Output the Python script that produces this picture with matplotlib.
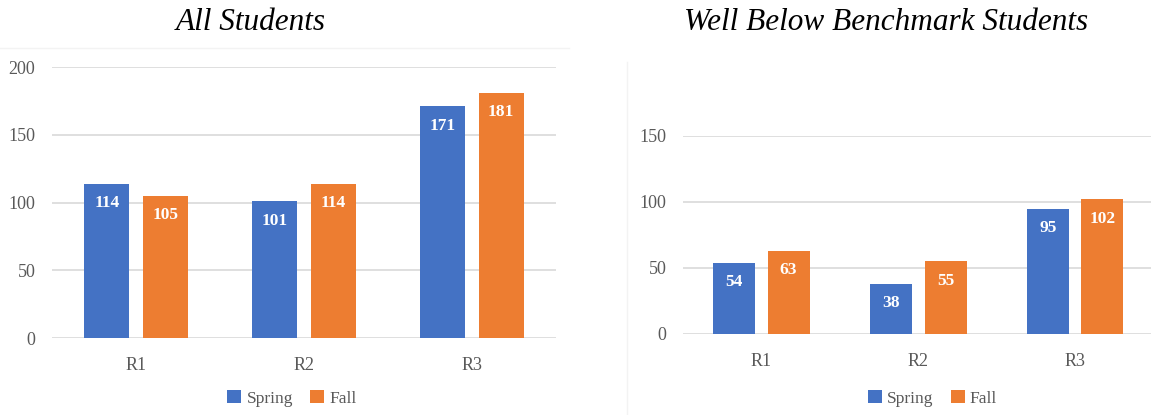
import numpy as np
import matplotlib
matplotlib.use('Agg')
import matplotlib.pyplot as plt
from matplotlib.lines import Line2D

regions = ['R1', 'R2', 'R3']
all_spring = [114, 101, 171]
all_fall = [105, 114, 181]
wbb_spring = [54, 38, 95]
wbb_fall = [63, 55, 102]

blue = '#4472C4'
orange = '#ED7D31'
grid_c = '#D9D9D9'
text_c = '#595959'

plt.rcParams['font.family'] = ['Liberation Serif', 'DejaVu Serif']

fig = plt.figure(figsize=(11.51, 4.15), dpi=100)

# faint chart-area borders from the original export
fig.add_artist(Line2D([0, 569 / 1151], [1 - 48 / 415] * 2, color='#F3F3F3', lw=1))
fig.add_artist(Line2D([627 / 1151] * 2, [0, 1 - 62 / 415], color='#F3F3F3', lw=1))

def draw(ax, spring, fall, ymax, title, title_x, leg_x):
    x = np.arange(len(regions))
    w = 0.268
    b1 = ax.bar(x - 0.173, spring, w, color=blue, label='Spring', zorder=3)
    b2 = ax.bar(x + 0.173, fall, w, color=orange, label='Fall', zorder=3)
    for bars in (b1, b2):
        for r in bars:
            ax.annotate(f'{int(r.get_height())}', (r.get_x() + r.get_width() / 2, r.get_height()),
                        xytext=(0, -14), textcoords='offset points', ha='center', va='center',
                        color='white', fontsize=12.5, fontweight='bold', zorder=4)
    ax.set_xlim(-0.5, 2.5)
    ax.set_ylim(0, ymax)
    ax.set_yticks(np.arange(0, ymax + 1, 50))
    ax.set_xticks(x)
    ax.set_xticklabels(regions)
    ax.yaxis.grid(True, color=grid_c, linewidth=1.2)
    ax.set_axisbelow(True)
    for s in ax.spines.values():
        s.set_visible(False)
    ax.tick_params(axis='y', length=0, pad=12, labelsize=13, labelcolor=text_c)
    ax.tick_params(axis='x', length=0, pad=13.5, labelsize=13, labelcolor=text_c)
    fig.text(title_x, 0.945, title, ha='center', va='center', fontsize=22.5, style='italic', color='black')
    ax.legend(loc='center', bbox_to_anchor=(leg_x, 0.04), bbox_transform=fig.transFigure,
              ncol=2, frameon=False, handlelength=0.8, handleheight=0.8, handletextpad=0.3,
              columnspacing=1.0, prop={'size': 12.5}, labelcolor=text_c)

ax1 = fig.add_axes([0.0452, 0.1855, 0.4379, 0.653])
draw(ax1, all_spring, all_fall, 200, 'All Students', 0.218, 0.2537)

ax2 = fig.add_axes([0.5934, 0.1952, 0.409, 0.4771])
draw(ax2, wbb_spring, wbb_fall, 150, 'Well Below Benchmark Students', 0.77, 0.81)

fig.savefig('out.png', dpi=100)
